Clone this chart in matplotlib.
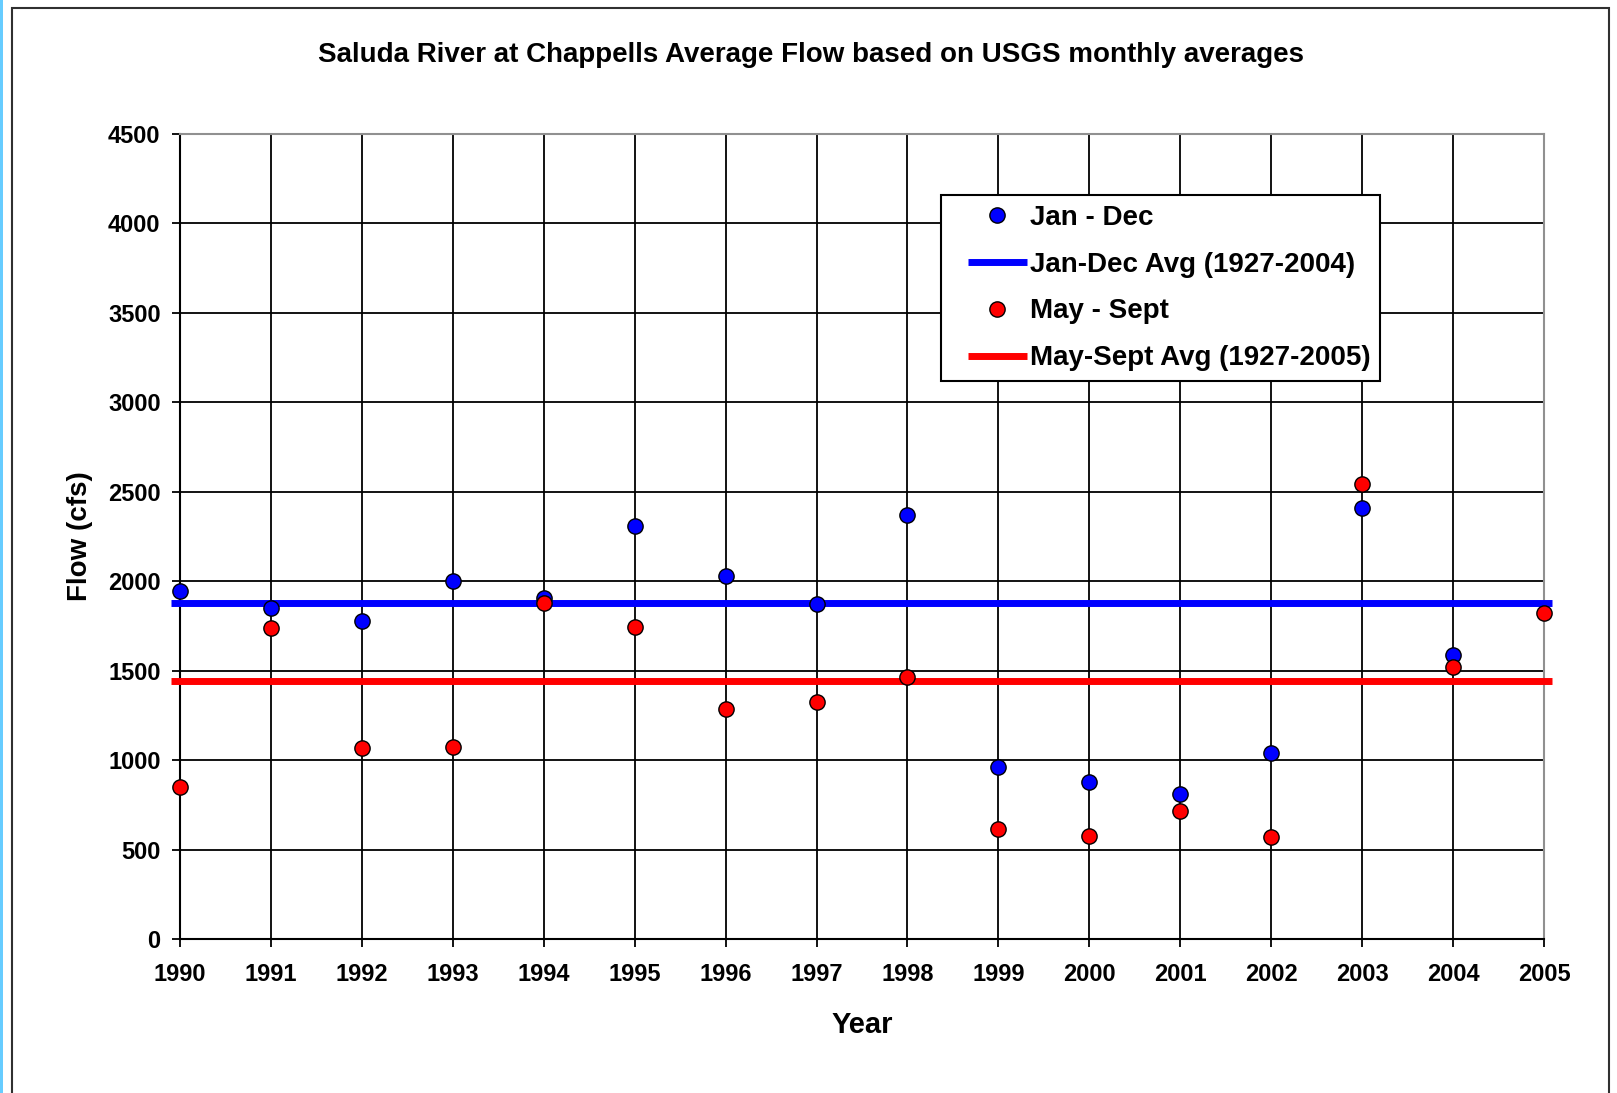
import numpy as np
import matplotlib
matplotlib.use("Agg")
from matplotlib import pyplot as plt
from matplotlib.patches import Rectangle
from matplotlib.lines import Line2D
from matplotlib.legend_handler import HandlerLine2D

# values
years = [1990, 1991, 1992, 1993, 1994, 1995, 1996, 1997,
         1998, 1999, 2000, 2001, 2002, 2003, 2004, 2005]
jan_dec = [1945, 1850, 1780, 2000, 1904, 2310, 2027, 1873,
           2370, 963, 879, 809, 1038, 2411, 1588, np.nan]
may_sept = [847, 1738, 1066, 1075, 1880, 1742, 1284, 1323,
            1465, 613, 577, 715, 572, 2545, 1520, 1821]
jan_dec_avg = 1877
may_sept_avg = 1444

y_ticks = [0, 500, 1000, 1500, 2000, 2500, 3000, 3500, 4000, 4500]

plt.rcParams['font.family'] = ['Liberation Sans', 'DejaVu Sans']
plt.rcParams['font.weight'] = 'bold'


def main():
    fig = plt.figure(figsize=(16.17, 10.93), dpi=100)
    W, H = 1617.0, 1093.0
    ax = fig.add_axes([180 / W, 1 - 939 / H, (1544 - 180) / W, (939 - 134) / H])

    #outer chart frame and blue strip at the left edge
    fig.patches.append(Rectangle((12 / W, -0.05), (1609 - 12) / W, 1.05 - 8 / H,
                                 transform=fig.transFigure, fill=False,
                                 edgecolor='#303030', linewidth=1.5))
    fig.patches.append(Rectangle((0, 0), 3 / W, 1, transform=fig.transFigure,
                                 facecolor='#66CCFF', edgecolor='none'))

    #average lines
    x0, x1 = years[0] - 0.1, years[-1] + 0.09
    l1, = ax.plot([x0, x1], [jan_dec_avg, jan_dec_avg], '-', color='#0000FF',
                  linewidth=5, zorder=3, clip_on=False, solid_capstyle='butt')
    l2, = ax.plot([x0, x1], [may_sept_avg, may_sept_avg], '-', color='#FF0000',
                  linewidth=5, zorder=3, clip_on=False, solid_capstyle='butt')

    #yearly points
    p1, = ax.plot(years, jan_dec, 'o', color='#0000FF', markeredgecolor='black',
                  markeredgewidth=1, markersize=11, zorder=4, clip_on=False)
    p2, = ax.plot(years, may_sept, 'o', color='#FF0000', markeredgecolor='black',
                  markeredgewidth=1, markersize=11, zorder=5, clip_on=False)

    ax.set_xlim(1990, 2005)
    ax.set_ylim(0, 4500)
    ax.set_xticks(years)
    ax.set_xticklabels([str(y) for y in years])
    ax.set_yticks(y_ticks)
    ax.set_yticklabels([str(v) for v in y_ticks])
    ax.grid(True, color='black', linewidth=1.3, zorder=1)
    ax.set_axisbelow(True)

    for s in ['left', 'bottom']:
        ax.spines[s].set_color('black')
        ax.spines[s].set_linewidth(1.5)
    for s in ['top', 'right']:
        ax.spines[s].set_color('#909090')
        ax.spines[s].set_linewidth(1.5)

    ax.tick_params(axis='both', direction='out', length=6, width=1.3,
                   color='black', labelsize=17)
    ax.tick_params(axis='x', pad=11)
    ax.tick_params(axis='y', pad=8)

    ax.set_xlabel('Year', fontsize=21, fontweight='bold', labelpad=18)
    ax.set_ylabel('Flow (cfs)', fontsize=20, fontweight='bold', labelpad=11)
    fig.text(811 / W, 1 - 55 / H,
             'Saluda River at Chappells Average Flow based on USGS monthly averages',
             fontsize=20, fontweight='bold', ha='center', va='center')

    leg = ax.legend([p1, l1, p2, l2],
                    ['Jan - Dec', 'Jan-Dec Avg (1927-2004)',
                     'May - Sept', 'May-Sept Avg (1927-2005)'],
                    loc='upper left', bbox_to_anchor=(941 / W, 1 - 195 / H),
                    bbox_transform=fig.transFigure, borderaxespad=0,
                    fancybox=False, framealpha=1, edgecolor='black',
                    prop={'size': 20, 'weight': 'bold'},
                    handlelength=2.74, handletextpad=0.1, borderpad=0.35,
                    labelspacing=0.75,
                    handler_map={Line2D: HandlerLine2D(xpad=0.62)})
    leg.get_frame().set_linewidth(1.5)
    leg.set_zorder(10)

    fig.savefig('out.png', dpi=100)


if __name__ == '__main__':
    main()
